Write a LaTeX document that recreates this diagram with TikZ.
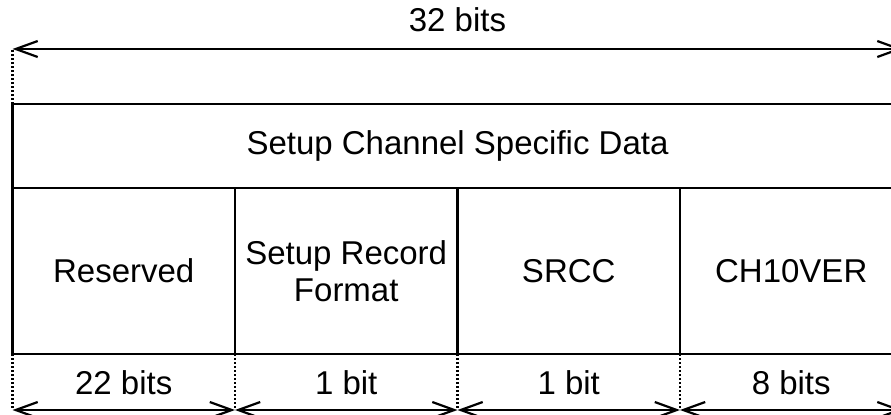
\documentclass[tikz,border=0pt]{standalone}
\usepackage{fontspec}
\setmainfont{Liberation Sans}
\usetikzlibrary{positioning,arrows.meta}

\tikzset{
  field/.style={draw,line width=1.1pt,minimum width=111.25pt,minimum height=83pt,
    inner sep=0pt,outer sep=0pt,align=center,font=\fontsize{16.5}{18.5}\selectfont},
  span/.style={line width=1.1pt,{Straight Barb[length=11pt,width=8pt]}-{Straight Barb[length=11pt,width=8pt]}},
  guide/.style={line width=1.1pt,dash pattern=on 1pt off 1pt},
  widthlabel/.style={inner sep=0pt,font=\fontsize{16.5}{18.5}\selectfont}
}

\begin{document}
\begin{tikzpicture}[x=0.5pt,y=-0.5pt]
  \useasboundingbox (0,0) rectangle (891,414);

  % fields
  \node[field] (res) at (123.75,271) {Reserved};
  \node[field,right=0pt of res] (fmt) {Setup Record\\Format};
  \node[field,right=0pt of fmt] (srcc) {SRCC};
  \node[field,right=0pt of srcc] (ver) {CH10VER};
  \node[field,minimum width=445pt,minimum height=42pt,anchor=south west] (csd) at (res.north west) {Setup Channel Specific Data};

  % total width
  \coordinate (tl) at ([yshift=27.5pt]csd.north west);
  \coordinate (tr) at ([yshift=27.5pt]csd.north east);
  \draw[guide] (csd.north west) -- (tl);
  \draw[guide] (csd.north east) -- (tr);
  \draw[span] (tl) -- (tr) node[widthlabel,midway,above=8pt] (total) {32 bits};

  % field widths
  \foreach \cell/\bits in {res/22 bits,fmt/1 bit,srcc/1 bit,ver/8 bits} {
    \coordinate (\cell-l) at ([yshift=-28pt]\cell.south west);
    \coordinate (\cell-r) at ([yshift=-28pt]\cell.south east);
    \draw[guide] (\cell.south west) -- (\cell-l);
    \draw[guide] (\cell.south east) -- (\cell-r);
    \draw[span] (\cell-l) -- (\cell-r) node[widthlabel,midway,above=7pt] (\cell-w) {\bits};
  }
\end{tikzpicture}
\end{document}
